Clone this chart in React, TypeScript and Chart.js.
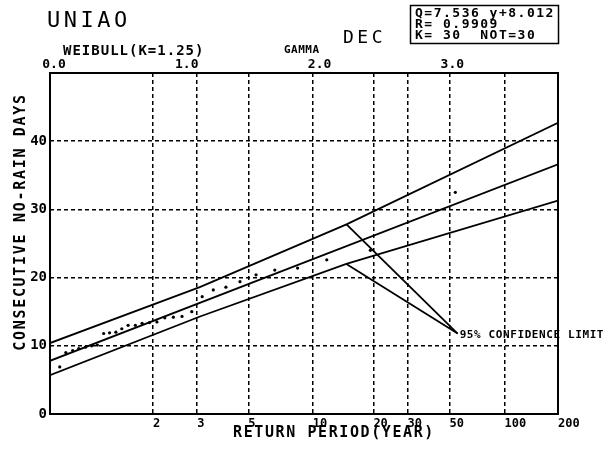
import React, { useEffect, useRef } from 'react';
import { Chart, registerables } from 'chart.js';

Chart.register(...registerables);

const MONO = '"DejaVu Sans Mono", "Liberation Mono", monospace';

// ---- axis ticks ----
const returnPeriodTicks = [2, 3, 5, 10, 20, 30, 50, 100, 200]; // years (bottom axis)
const weibullTicks = [0, 1, 2, 3]; // Weibull(K=1.25) reduced variate (top axis)
const dayTicks = [0, 10, 20, 30, 40, 50];
const WEIBULL_K = 1.25;

// ---- observed sample (plotting return period in years, consecutive no-rain days) ----
const obsReturnPeriod = [53.8, 19.3, 11.7, 8.46, 6.61, 5.42, 4.59, 3.98, 3.51, 3.15, 2.85, 2.6, 2.4, 2.22, 2.07, 1.94, 1.82, 1.72, 1.62, 1.54, 1.47, 1.4, 1.34, 1.28, 1.23, 1.18, 1.13, 1.09, 1.05, 1.02];
const obsDays = [32.5, 24.0, 22.6, 21.4, 21.1, 20.4, 19.4, 18.6, 18.2, 17.2, 15.0, 14.3, 14.2, 14.1, 13.5, 13.4, 13.3, 13.0, 13.0, 12.5, 12.0, 11.9, 11.8, 10.1, 10.0, 9.8, 9.6, 9.3, 9.0, 6.9];

// ---- fitted line and 95% confidence limits (x in reduced variate units) ----
const fitVariate = [-0.03, 3.796];
const fitDays = [7.8, 36.6];
const upperVariate = [-0.03, 1.098, 2.203, 3.796];
const upperDays = [10.4, 18.6, 27.8, 42.7];
const lowerVariate = [-0.03, 1.1, 2.202, 3.796];
const lowerDays = [5.7, 14.3, 22.0, 31.3];

// ---- pointer lines to the "95% CONFIDENCE LIMIT" label ----
const pointerUpperVariate = [2.203, 3.04];
const pointerUpperDays = [27.8, 11.8];
const pointerLowerVariate = [2.202, 3.04];
const pointerLowerDays = [22.0, 11.8];

const weibullVariate = (T: number) => Math.pow(Math.log(T), 1 / WEIBULL_K);
const X_MIN = -0.03;
const X_MAX = weibullVariate(200);

const zip = (xs: number[], ys: number[]) => xs.map((x, i) => ({ x, y: ys[i] }));

function drawSpaced(ctx: CanvasRenderingContext2D, text: string, x: number, y: number, font: string, spacing: number, align: CanvasTextAlign = 'left') {
  ctx.save();
  ctx.font = font;
  (ctx as any).letterSpacing = spacing + 'px';
  ctx.textAlign = align;
  ctx.textBaseline = 'alphabetic';
  ctx.fillStyle = '#000';
  ctx.fillText(text, x, y);
  ctx.restore();
}

const annotations = {
  id: 'annotations',
  beforeDatasetsDraw(chart: any) {
    const { ctx, chartArea } = chart;
    ctx.save();
    ctx.strokeStyle = '#000';
    ctx.lineWidth = 2;
    ctx.strokeRect(chartArea.left, chartArea.top, chartArea.right - chartArea.left, chartArea.bottom - chartArea.top);
    ctx.restore();
  },
  afterDraw(chart: any) {
    const { ctx } = chart;
    const xs = chart.scales.x;
    const ys = chart.scales.y;
    drawSpaced(ctx, 'UNIAO', 47, 27, `22px ${MONO}`, 3.5);
    drawSpaced(ctx, 'WEIBULL(K=1.25)', 63, 55, `bold 14px ${MONO}`, 1);
    drawSpaced(ctx, 'GAMMA', 284, 53, `bold 11px ${MONO}`, 0.5);
    drawSpaced(ctx, 'DEC', 343, 43, `18px ${MONO}`, 3.5);
    // info box
    ctx.save();
    ctx.strokeStyle = '#000';
    ctx.lineWidth = 1.5;
    ctx.strokeRect(410.5, 5.5, 148, 38);
    ctx.restore();
    drawSpaced(ctx, 'Q=7.536 y+8.012', 415, 17, `bold 13px ${MONO}`, 1.5);
    drawSpaced(ctx, 'R= 0.9909', 415, 27.5, `bold 13px ${MONO}`, 1.5);
    drawSpaced(ctx, 'K= 30  NOT=30', 415, 38.5, `bold 13px ${MONO}`, 1.5);
    // axis titles
    drawSpaced(ctx, 'RETURN PERIOD(YEAR)', 334, 437, `bold 15px ${MONO}`, 1.6, 'center');
    ctx.save();
    ctx.translate(25, 222);
    ctx.rotate(-Math.PI / 2);
    drawSpaced(ctx, 'CONSECUTIVE NO-RAIN DAYS', 0, 0, `bold 15px ${MONO}`, 1.7, 'center');
    ctx.restore();
    // confidence label
    const lx = xs.getPixelForValue(pointerUpperVariate[1]);
    const ly = ys.getPixelForValue(pointerUpperDays[1]);
    drawSpaced(ctx, '95% CONFIDENCE LIMIT', lx + 2, ly + 4, `bold 11px ${MONO}`, 0.6);
  },
};

export default function App() {
  const ref = useRef<HTMLCanvasElement | null>(null);
  useEffect(() => {
    if (!ref.current) return;
    const lineDs = (data: any[]) => ({
      data,
      showLine: true,
      borderColor: '#000',
      borderWidth: 1.8,
      pointRadius: 0,
      fill: false,
      tension: 0,
    });
    const chart = new Chart(ref.current, {
      type: 'scatter',
      data: {
        datasets: [
          {
            data: obsReturnPeriod.map((T, i) => ({ x: weibullVariate(T), y: obsDays[i] })),
            showLine: false,
            pointRadius: 1.6,
            pointBackgroundColor: '#000',
            pointBorderColor: '#000',
            pointBorderWidth: 0,
          },
          lineDs(zip(fitVariate, fitDays)),
          lineDs(zip(upperVariate, upperDays)),
          lineDs(zip(lowerVariate, lowerDays)),
          lineDs(zip(pointerUpperVariate, pointerUpperDays)),
          lineDs(zip(pointerLowerVariate, pointerLowerDays)),
        ],
      },
      options: {
        responsive: false,
        animation: false,
        layout: { padding: { top: 53, right: 46, left: 0, bottom: 0 } },
        plugins: { legend: { display: false }, tooltip: { enabled: false } },
        scales: {
          x: {
            type: 'linear',
            position: 'bottom',
            min: X_MIN,
            max: X_MAX,
            afterBuildTicks: (s: any) => {
              s.ticks = returnPeriodTicks.map((T) => ({ value: weibullVariate(T) }));
            },
            afterFit: (s: any) => {
              s.height = 36;
            },
            ticks: {
              autoSkip: false,
              maxRotation: 0,
              align: 'start',
              padding: 3,
              color: '#000',
              font: { family: MONO, size: 12, weight: 'bold' },
              callback: (_v: any, i: number) => String(returnPeriodTicks[i]),
            },
            grid: {
              drawTicks: false,
              lineWidth: 1.5,
              color: (c: any) => (c.index === returnPeriodTicks.length - 1 ? 'rgba(0,0,0,0)' : '#000'),
            },
            border: { display: false, dash: [4, 3] },
          },
          xTop: {
            type: 'linear',
            position: 'top',
            min: X_MIN,
            max: X_MAX,
            afterBuildTicks: (s: any) => {
              s.ticks = weibullTicks.map((v) => ({ value: v }));
            },
            afterFit: (s: any) => {
              s.height = 20;
            },
            ticks: {
              autoSkip: false,
              maxRotation: 0,
              padding: 1,
              color: '#000',
              font: { family: MONO, size: 13, weight: 'bold' },
              callback: (v: any) => Number(v).toFixed(1),
            },
            grid: { display: false, drawTicks: false },
            border: { display: false },
          },
          y: {
            type: 'linear',
            min: 0,
            max: 50,
            afterBuildTicks: (s: any) => {
              s.ticks = dayTicks.map((v) => ({ value: v }));
            },
            afterFit: (s: any) => {
              s.width = 50;
            },
            ticks: {
              padding: 3,
              color: '#000',
              font: { family: MONO, size: 14, weight: 'bold' },
              callback: (v: any) => (Number(v) === 50 ? '' : String(v)),
            },
            grid: {
              drawTicks: false,
              lineWidth: 1.5,
              color: (c: any) => (c.tick && (c.tick.value === 0 || c.tick.value === 50) ? 'rgba(0,0,0,0)' : '#000'),
            },
            border: { display: false, dash: [4, 3] },
          },
        },
      },
      plugins: [annotations],
    } as any);
    return () => chart.destroy();
  }, []);
  return (
    <div style={{ position: 'absolute', left: 0, top: 0, width: 604, height: 450, background: '#fff' }}>
      <canvas ref={ref} width={604} height={450} style={{ width: 604, height: 450 }} />
    </div>
  );
}
